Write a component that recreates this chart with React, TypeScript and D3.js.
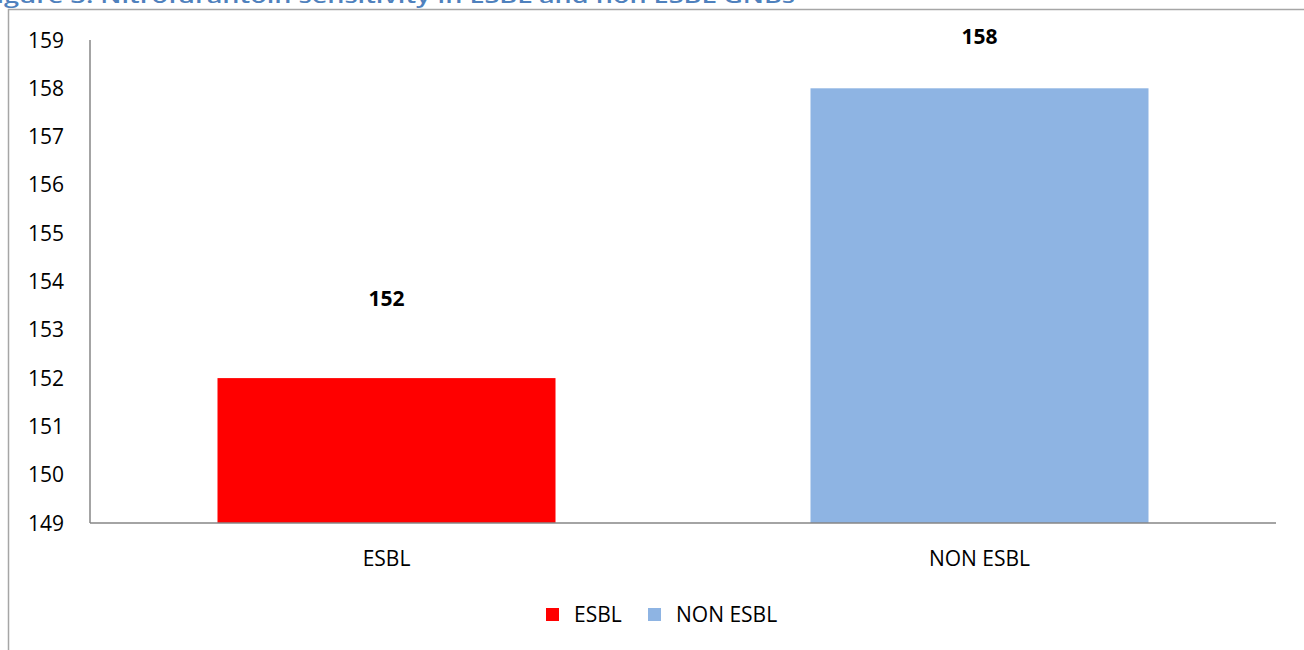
import React from "react";
import * as d3 from "d3";

const categories = ["ESBL", "NON ESBL"];
const values = [152, 158];
const colors = ["#FF0000", "#8EB4E3"];
const yTicks = [149, 150, 151, 152, 153, 154, 155, 156, 157, 158, 159];
const title = "Figure 3: Nitrofurantoin sensitivity in ESBL and non ESBL GNBs";

export default function App() {
  const W = 1304, H = 650;
  const left = 90, right = 1276, top = 40, bottom = 523;
  const x = d3.scaleBand<string>().domain(categories).range([left, right]).paddingInner(0.43).paddingOuter(0.215);
  const y = d3.scaleLinear().domain([149, 159]).range([bottom, top]);
  const font = "'Open Sans', sans-serif";
  const fs = 21;
  return (
    <svg width={W} height={H} style={{ position: "absolute", left: 0, top: 0, display: "block", background: "#fff" }}>
      <text x={-18} y={3} fontFamily={font} fontSize={20} fontWeight="600" fill="#4F81BD" textLength={813} lengthAdjust="spacingAndGlyphs">{title}</text>
      <rect x={8.5} y={9.5} width={1400} height={800} fill="none" stroke="#A6A6A6" strokeWidth={1.5} />
      {categories.map((c, i) => (
        <rect key={c} x={x(c)} y={y(values[i])} width={x.bandwidth()} height={bottom - y(values[i])} fill={colors[i]} />
      ))}
      <line x1={left} x2={left} y1={top} y2={bottom} stroke="#868686" strokeWidth={1.5} />
      <line x1={left} x2={right} y1={bottom} y2={bottom} stroke="#868686" strokeWidth={1.5} />
      {yTicks.map((t) => (
        <text key={t} x={64} y={y(t) + 7.5} textAnchor="end" fontFamily={font} fontSize={fs} fill="#000">{t}</text>
      ))}
      {categories.map((c, i) => (
        <text key={"v" + c} x={x(c)! + x.bandwidth() / 2} y={Math.max(y(values[i]) - 72, 44)} textAnchor="middle" fontFamily={font} fontSize={fs} fontWeight="bold" fill="#000">{values[i]}</text>
      ))}
      {categories.map((c) => (
        <text key={"x" + c} x={x(c)! + x.bandwidth() / 2} y={566} textAnchor="middle" fontFamily={font} fontSize={fs} fill="#000">{c}</text>
      ))}
      {categories.map((c, i) => {
        const lx = [546, 648][i];
        return (
          <g key={"l" + c}>
            <rect x={lx} y={608} width={13} height={13} fill={colors[i]} />
            <text x={lx + 28} y={622} fontFamily={font} fontSize={fs} fill="#000">{c}</text>
          </g>
        );
      })}
    </svg>
  );
}
